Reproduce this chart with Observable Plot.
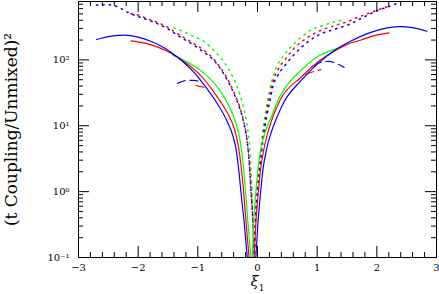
<!DOCTYPE html>
<html><head><meta charset="utf-8">
<script src="https://cdn.jsdelivr.net/npm/d3@7"></script>
<script src="https://cdn.jsdelivr.net/npm/@observablehq/plot@0.6"></script>
<style>html,body{margin:0;padding:0;background:#fff}</style>
</head><body><div id="chart"></div>
<script>
// ---- tick values & labels ----
const xMajor = [-3, -2, -1, 0, 1, 2, 3];
const xTickLabels = ["−3", "−2", "−1", "0", "1", "2", "3"];
const yMajor = [0.1, 1, 10, 100];
const yTickLabels = ["10⁻¹", "10⁰", "10¹", "10²"];
const yLabel = "(t Coupling/Unmixed)²";

// ---- solid curves [xi1, value] ----
const greenSolidL = [[-1.42,118],[-1.2,95],[-0.95,68.7],[-0.67,38.4],[-0.481,20.2],[-0.3635,11.1],[-0.2915,5.94],[-0.246,2.95],[-0.204,1.107],[-0.1625,0.361],[-0.112,0.1],[-0.099,0.075]];
const greenSolidR = [[-0.099,0.075],[-0.087,0.1],[-0.062,0.361],[-0.032,0.866],[0.005,2.08],[0.052,4.18],[0.125,7.85],[0.24,14.2],[0.348,24.9],[0.44,35],[0.725,69],[1.005,112],[1.228,138],[1.35,150]];
const redSolidL = [[-2.12,195],[-1.89,180],[-1.67,156],[-1.45,126],[-1.2,90],[-0.95,57.7],[-0.67,27],[-0.4975,15.3],[-0.389,9.04],[-0.322,4.98],[-0.276,2.47],[-0.2345,1.03],[-0.193,0.361],[-0.142,0.1],[-0.129,0.075]];
const redSolidR = [[-0.072,0.075],[-0.0586,0.1],[-0.025,0.361],[0.0084,0.866],[0.0486,2.08],[0.102,4.18],[0.1725,7.85],[0.2647,14.2],[0.382,24.9],[0.725,54],[1.005,92],[1.283,135],[1.5,172],[1.75,202],[1.90,226],[2.205,257]];
const blueSolidL = [[-2.70,204],[-2.45,229],[-2.23,237],[-2.0,222],[-1.78,190],[-1.56,152],[-1.34,110],[-1.06,64],[-0.95,48.4],[-0.67,21.4],[-0.514,11.96],[-0.414,7.07],[-0.355,4.18],[-0.313,2.08],[-0.271,0.866],[-0.226,0.361],[-0.171,0.1],[-0.157,0.075]];
const blueSolidR = [[-0.040,0.075],[-0.0285,0.1],[0.010,0.361],[0.047,0.866],[0.089,2.08],[0.147,4.18],[0.223,7.59],[0.323,13.3],[0.446,23.2],[0.725,48],[1.005,87],[1.283,138],[1.55,190],[1.90,262],[2.18,306],[2.40,321],[2.62,306],[2.84,272]];

// ---- dotted curves ----
const greenDotL = [[-1.40,306],[-1.285,279],[-1.06,225],[-0.92,196],[-0.727,138],[-0.503,77],[-0.335,38],[-0.246,20.9],[-0.1876,11.96],[-0.1457,6.6],[-0.1156,2.95],[-0.092,1.03],[-0.070,0.361],[-0.050,0.1],[-0.046,0.075]];
const greenDotR = [[-0.056,0.075],[-0.0536,0.1],[-0.037,0.361],[-0.0117,0.866],[0.030,2.47],[0.080,7.07],[0.139,17],[0.198,33],[0.256,54],[0.34,85],[0.45,120],[0.613,175],[0.838,262],[1.173,352],[1.396,396]];
const redDotL = [[-2.12,500],[-2.0,480],[-1.84,420],[-1.67,370],[-1.5,310],[-1.34,250],[-1.06,175],[-0.92,145],[-0.727,101],[-0.531,57],[-0.392,32],[-0.2965,19],[-0.2295,11.5],[-0.179,6.37],[-0.1407,2.95],[-0.1089,1.03],[-0.0787,0.361],[-0.0536,0.1],[-0.0486,0.075]];
const redDotR = [[-0.055,0.075],[-0.052,0.1],[-0.035,0.361],[-0.009,0.866],[0.035,2.4],[0.088,6.6],[0.148,15.5],[0.205,29],[0.26,47],[0.34,70],[0.45,98],[0.613,150],[0.838,218],[1.06,280],[1.283,330],[1.535,390],[1.62,420],[1.9,525],[2.07,596],[2.18,646]];
const blueDotL = [[-2.70,680],[-2.55,690],[-2.42,672],[-2.30,610],[-2.17,525],[-2.0,455],[-1.84,405],[-1.67,352],[-1.5,295],[-1.34,237],[-1.06,165],[-0.92,135],[-0.727,97.5],[-0.531,54.4],[-0.392,30.4],[-0.2965,18.2],[-0.2295,11.1],[-0.179,6.37],[-0.1407,2.95],[-0.1089,1.03],[-0.0787,0.361],[-0.0536,0.1],[-0.0486,0.075]];
const blueDotR = [[-0.053,0.075],[-0.05,0.1],[-0.033,0.361],[-0.006,0.866],[0.04,2.3],[0.095,6.2],[0.155,14],[0.213,25],[0.26,40],[0.34,58],[0.45,80],[0.613,120],[0.838,186],[1.06,248],[1.283,290],[1.535,345],[1.8,455],[2.01,561],[2.29,692],[2.40,770],[2.5,850]];

// ---- dashed curves ----
const redDashL = [[-1.03,41],[-0.93,39],[-0.83,37]];
const redDashR = [[0.81,60],[0.93,66],[1.06,71]];
const blueDashL = [[-1.34,44],[-1.2,48.5],[-1.07,49],[-0.97,47]];
const blueDashR = [[0.95,80],[1.06,92],[1.2,95],[1.3,90],[1.45,77]];

const RED = "#ff0000", GREEN = "#00ff00", BLUE = "#0000ff";
const curves = [
  {data: greenDotL, color: GREEN, kind: "dot"}, {data: greenDotR, color: GREEN, kind: "dot"},
  {data: redDotL, color: RED, kind: "dot"}, {data: redDotR, color: RED, kind: "dot"},
  {data: blueDotL, color: BLUE, kind: "dot"}, {data: blueDotR, color: BLUE, kind: "dot"},
  {data: redDashL, color: RED, kind: "dash"}, {data: redDashR, color: RED, kind: "dash"},
  {data: blueDashL, color: BLUE, kind: "dash"}, {data: blueDashR, color: BLUE, kind: "dash"},
  {data: greenSolidL, color: GREEN, kind: "solid"}, {data: greenSolidR, color: GREEN, kind: "solid"},
  {data: redSolidL, color: RED, kind: "solid"}, {data: redSolidR, color: RED, kind: "solid"},
  {data: blueSolidL, color: BLUE, kind: "solid"}, {data: blueSolidR, color: BLUE, kind: "solid"}
];

const W = 439, H = 294, ML = 78, MR = 3, MT = 1, MB = 37;
const FW = W - ML - MR, FH = H - MT - MB;
const xMinor = d3.range(-30, 31, 2).map(d => d / 10).filter(d => !xMajor.includes(d));
const yMinor = yMajor.flatMap(p => d3.range(2, 10).map(k => +(k * p).toPrecision(3))).filter(d => d < 770);
const xFmt = new Map(xMajor.map((d, i) => [d, xTickLabels[i]]));
const yFmt = new Map(yMajor.map((d, i) => [d, yTickLabels[i]]));
const MAJ = 11, MIN = 5;

const dash = {solid: null, dot: "1.4 5", dash: "8 5"};
const widths = {solid: 1.2, dot: 1.5, dash: 1.2};

const plot = Plot.plot({
  width: W, height: H,
  marginLeft: ML, marginRight: MR, marginTop: MT, marginBottom: MB,
  style: {fontFamily: "'DejaVu Serif', serif", background: "#fff", color: "#000"},
  x: {domain: [-3, 3]},
  y: {type: "log", domain: [0.1, 770]},
  marks: [
    ...curves.map(c => Plot.line(c.data, {
      x: d => d[0], y: d => d[1], stroke: c.color,
      strokeWidth: widths[c.kind], strokeDasharray: dash[c.kind],
      curve: "monotone-x", clip: true
    })),
    // inward ticks (bottom/top)
    Plot.ruleX(xMajor, {x: d => d, insetTop: FH - MAJ, stroke: "#000"}),
    Plot.ruleX(xMajor, {x: d => d, insetBottom: FH - MAJ, stroke: "#000"}),
    Plot.ruleX(xMinor, {x: d => d, insetTop: FH - MIN, stroke: "#000"}),
    Plot.ruleX(xMinor, {x: d => d, insetBottom: FH - MIN, stroke: "#000"}),
    // inward ticks (left/right)
    Plot.ruleY(yMajor, {y: d => d, insetRight: FW - MAJ, stroke: "#000"}),
    Plot.ruleY(yMajor, {y: d => d, insetLeft: FW - MAJ, stroke: "#000"}),
    Plot.ruleY(yMinor, {y: d => d, insetRight: FW - MIN, stroke: "#000"}),
    Plot.ruleY(yMinor, {y: d => d, insetLeft: FW - MIN, stroke: "#000"}),
    Plot.frame({stroke: "#000", strokeWidth: 1}),
    // tick labels
    Plot.axisX(xMajor, {anchor: "bottom", tickSize: 0, tickPadding: 6, fontSize: 10, label: null, tickFormat: d => xFmt.get(d)}),
    Plot.axisY(yMajor, {anchor: "left", tickSize: 0, tickPadding: 9, fontSize: 10, label: null, tickFormat: d => yFmt.get(d)}),
    // y title through the axis' own label
    Plot.axisY({anchor: "left", ticks: [], tickSize: 0, label: yLabel, labelAnchor: "center", labelArrow: "none", labelOffset: 74, fontSize: 17}),
    // x title
    Plot.text(["ξ"], {text: d => d, frameAnchor: "bottom", dx: -3, dy: 28.5, fontSize: 14, fontStyle: "italic"}),
    Plot.text(["1"], {text: d => d, frameAnchor: "bottom", dx: 4, dy: 33, fontSize: 9})
  ]
});
// drop any direction arrow the axis may add to the title
d3.select(plot).selectAll("text").each(function () {
  if (this.textContent.startsWith("(t Coupling") && this.textContent !== yLabel) this.textContent = yLabel;
});
document.getElementById("chart").appendChild(plot);
</script>
</body></html>
